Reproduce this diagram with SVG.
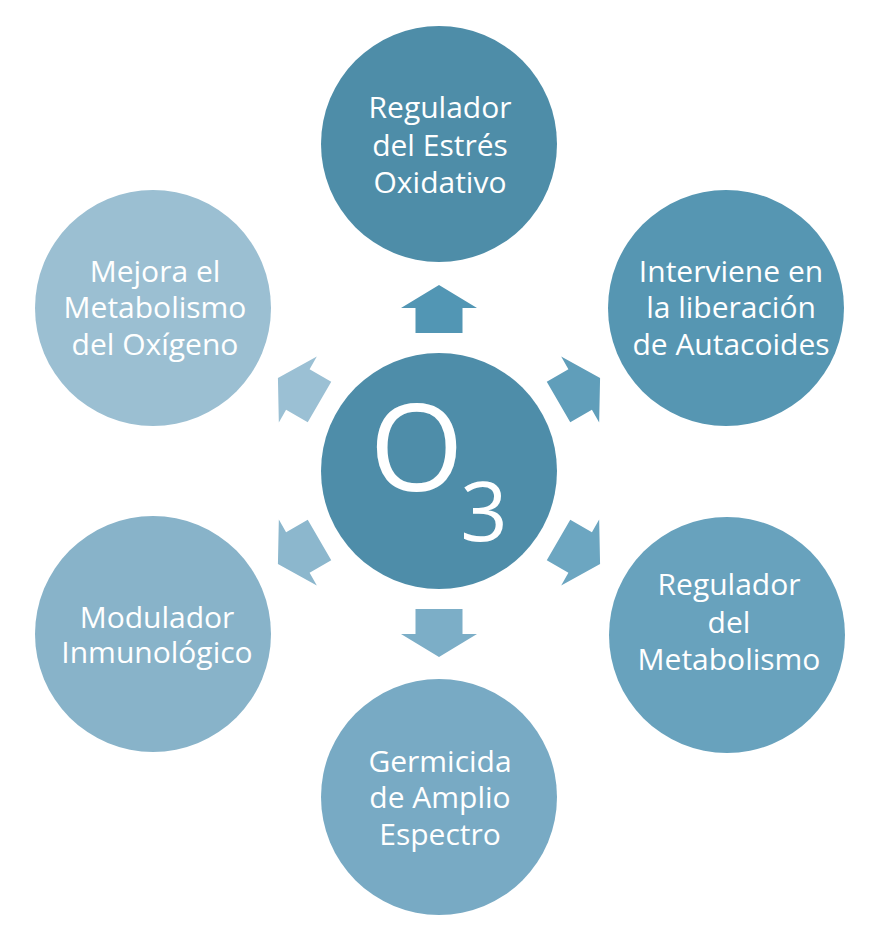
<svg xmlns="http://www.w3.org/2000/svg" xmlns:xlink="http://www.w3.org/1999/xlink" width="886" height="938" viewBox="0 0 886 938">
  <defs>
    <style>
      .lbl { font-family: "Open Sans", "DejaVu Sans", sans-serif; font-size: 30px; fill: #ffffff; text-anchor: middle; }
      .o3 { font-family: "Open Sans", "DejaVu Sans", sans-serif; fill: #ffffff; }
    </style>
    <polygon id="arrow" points="-23.5,-138 23.5,-138 23.5,-163 38,-163 0,-186 -38,-163 -23.5,-163"/>
  </defs>
  <rect width="886" height="938" fill="#ffffff"/>

  <g id="connectors">
    <use xlink:href="#arrow" href="#arrow" transform="translate(439,471) rotate(0)" fill="#5296B4"/>
    <use xlink:href="#arrow" href="#arrow" transform="translate(439,471) rotate(60)" fill="#609EBA"/>
    <use xlink:href="#arrow" href="#arrow" transform="translate(439,471) rotate(120)" fill="#6CA6C1"/>
    <use xlink:href="#arrow" href="#arrow" transform="translate(439,471) rotate(180)" fill="#7CAEC7"/>
    <use xlink:href="#arrow" href="#arrow" transform="translate(439,471) rotate(240)" fill="#8CB7CD"/>
    <use xlink:href="#arrow" href="#arrow" transform="translate(439,471) rotate(300)" fill="#9BC0D4"/>
  </g>

  <g id="node-center">
    <circle cx="439" cy="471" r="118" fill="#4E8DA9"/>
    <text class="o3"><tspan x="416.5" y="491" font-size="121" text-anchor="middle">O</tspan><tspan x="484" y="541" font-size="83" text-anchor="middle">3</tspan></text>
  </g>

  <g id="node-top">
    <circle cx="439" cy="144" r="118" fill="#4E8DA8"/>
    <text class="lbl"><tspan x="440" y="118">Regulador</tspan><tspan x="440" y="156">del Estrés</tspan><tspan x="440" y="193">Oxidativo</tspan></text>
  </g>

  <g id="node-top-right">
    <circle cx="726" cy="308" r="118" fill="#5696B2"/>
    <text class="lbl"><tspan x="731" y="282">Interviene en</tspan><tspan x="731" y="318">la liberación</tspan><tspan x="731" y="355">de Autacoides</tspan></text>
  </g>

  <g id="node-bottom-right">
    <circle cx="727" cy="635" r="118" fill="#68A2BD"/>
    <text class="lbl"><tspan x="729" y="595">Regulador</tspan><tspan x="729" y="633">del</tspan><tspan x="729" y="670">Metabolismo</tspan></text>
  </g>

  <g id="node-bottom">
    <circle cx="439" cy="797" r="118" fill="#78AAC4"/>
    <text class="lbl"><tspan x="440" y="772">Germicida</tspan><tspan x="440" y="808">de Amplio</tspan><tspan x="440" y="845">Espectro</tspan></text>
  </g>

  <g id="node-bottom-left">
    <circle cx="153" cy="634" r="118" fill="#88B3C9"/>
    <text class="lbl"><tspan x="157" y="628">Modulador</tspan><tspan x="157" y="663">Inmunológico</tspan></text>
  </g>

  <g id="node-top-left">
    <circle cx="153" cy="308" r="118" fill="#9BBFD2"/>
    <text class="lbl"><tspan x="155" y="282">Mejora el</tspan><tspan x="155" y="318">Metabolismo</tspan><tspan x="155" y="355">del Oxígeno</tspan></text>
  </g>
</svg>
